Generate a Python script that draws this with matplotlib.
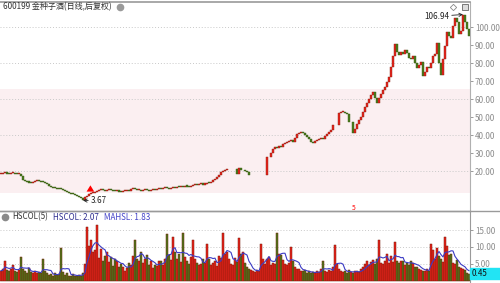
import matplotlib.pyplot as plt
import numpy as np
import pandas as pd

plt.rcParams['font.family'] = ['Noto Sans CJK SC', 'DejaVu Sans']

TITLE = '600199 金种子酒(日线,后复权)'

# daily close (after-adjusted), None = no visible candle
closes = [
    18.5, 18.8, 19.0, 18.6, 18.4, 18.7, 18.9, 18.5, 18.2, 18.4,
    17.2, 15.0, 14.2, 14.0, 13.6, 13.4, 13.8, 14.4, 14.6, 14.2,
    14.0, 13.8, 13.4, 12.6, 11.8, 11.2, 10.8, 10.5, 10.2, 10.0,
    9.8, 9.4, 8.8, 8.4, 7.8, 7.4, 7.0, 6.6, 6.0, 5.4,
    4.8, 3.67, 5.6, 6.4, 7.4, 7.8, 8.0, 8.4, 8.8, 9.2,
    9.6, 9.2, 9.0, 9.4, 9.6, 9.3, 9.0, 8.8, 9.0, 8.6,
    8.5, 8.8, 9.1, 9.4, 9.0, 9.8, 10.2, 9.8, 9.4, 9.6,
    9.0, 9.3, 9.6, 9.2, 8.9, 9.4, 9.7, 9.5, 9.9, 10.2,
    10.0, 10.4, 10.8, 10.4, 10.2, 10.6, 11.0, 10.8, 11.2, 11.0,
    11.3, 11.0, 11.6, 11.4, 11.2, 11.8, 12.0, 12.4, 12.2, 12.6,
    12.8, 12.5, 13.0, 13.6, 13.2, 14.0, 14.8, 15.6, 16.6, 18.0,
    19.2, 19.8, 20.4, 21.2, None, None, None, None, 18.6, 21.8,
    20.4, None, 20.2, 19.2, 18.0, None, None, None, None, None,
    None, None, None, 27.6, None, 30.2, 32.0, 33.2, 32.6, 34.0,
    33.4, 34.8, 35.6, 36.0, 36.8, 37.2, 36.2, 38.6, 40.4, 41.0,
    41.6, 41.2, 40.0, 39.0, 37.6, 36.4, 35.8, 36.6, 37.4, 38.0,
    38.6, 38.0, 39.2, 40.6, 41.6, 43.0, 45.6, None, None, 52.2,
    52.8, 53.0, 52.4, 51.6, 47.2, None, 41.2, 43.4, 46.0, 48.4,
    50.0, 52.6, 55.4, 57.8, 60.2, 62.0, 64.0, 60.4, 57.6, 60.6,
    63.0, 65.0, 66.8, 69.6, 72.4, 78.0, 84.0, 90.6, 86.0, 84.2,
    86.0, 84.8, 87.2, 85.6, 83.0, 82.4, 84.0, 80.2, 77.4, 79.0,
    80.4, 73.0, 75.0, 77.8, 77.0, 80.2, 84.0, 85.2, 91.0, 80.0,
    73.2, 82.0, 89.6, 97.0, 95.0, 94.0, 100.4, 105.2, 102.6, 96.4,
    98.0, 106.94, 103.0, 99.0, 95.0,
]

# turnover rate HSCOL (%)
hscol = [
    3.0, 3.4, 6.0, 3.2, 2.8, 3.6, 4.6, 3.0, 2.6, 3.2,
    7.0, 3.4, 2.8, 2.4, 3.8, 2.6, 2.4, 2.8, 2.2, 2.6,
    2.4, 6.6, 2.8, 2.2, 1.8, 2.0, 1.6, 2.2, 1.8, 2.0,
    9.6, 2.6, 1.8, 2.2, 1.6, 1.4, 2.0, 1.6, 1.4, 1.8,
    1.6, 2.4, 5.0, 16.0, 10.4, 12.0, 8.6, 9.0, 16.4, 6.8,
    9.4, 6.0, 7.4, 8.6, 5.6, 7.0, 4.4, 6.4, 6.0, 4.2,
    5.0, 4.0, 3.0, 3.8, 5.2, 4.6, 7.4, 12.0, 6.6, 6.0,
    8.6, 5.4, 6.6, 7.6, 4.8, 6.0, 3.8, 4.6, 4.4, 5.8,
    6.0, 4.8, 6.6, 13.8, 7.6, 6.2, 13.0, 8.4, 6.4, 8.0,
    5.6, 14.0, 7.0, 6.0, 5.0, 7.0, 12.0, 6.4, 5.2, 4.8,
    5.0, 6.4, 5.4, 11.0, 6.6, 4.8, 5.2, 6.0, 4.4, 7.4,
    6.8, 14.0, 8.0, 8.6, 6.4, 5.0, 4.6, 6.8, 5.6, 12.6,
    7.8, 8.4, 5.4, 4.0, 3.4, 3.2, 3.0, 2.6, 3.2, 2.8,
    11.0, 6.4, 5.0, 6.4, 7.2, 4.8, 5.4, 5.0, 14.0, 8.0,
    7.6, 6.2, 5.0, 4.6, 5.4, 10.0, 6.0, 4.0, 3.4, 3.6,
    3.0, 2.8, 3.2, 2.4, 2.8, 2.2, 2.6, 2.4, 3.0, 2.6,
    3.4, 6.0, 3.0, 2.6, 3.2, 2.8, 4.0, 10.6, 5.0, 3.6,
    3.0, 2.6, 2.8, 2.4, 3.2, 2.6, 2.4, 2.8, 3.0, 2.6,
    3.4, 4.0, 5.0, 6.0, 4.8, 5.6, 6.2, 5.0, 6.4, 12.0,
    5.4, 5.0, 6.0, 8.0, 5.4, 7.4, 5.6, 11.6, 6.0, 5.2,
    5.8, 6.0, 4.8, 5.4, 4.6, 6.0, 5.2, 4.2, 4.0, 3.6,
    3.2, 3.0, 2.8, 3.4, 3.0, 11.0, 9.0, 6.4, 9.6, 7.4,
    6.4, 5.6, 13.0, 10.2, 7.6, 8.0, 5.4, 5.0, 6.2, 4.0,
    3.8, 3.6, 3.2, 2.4, 2.07,
]

price_ticks = [20, 30, 40, 50, 60, 70, 80, 90, 100]
price_grid = [20, 40, 60, 80, 100]
vol_ticks = [5, 10, 15]
low_idx, low_val = 41, 3.67
high_idx, high_val = 231, 106.94

UP = '#e8231b'
DOWN = '#4a7d1c'
GRID = '#c9c9c9'
LABEL = '#8a8a8a'

n = len(closes)
x = np.arange(n)

fig = plt.figure(figsize=(5, 2.83), dpi=100)
fig.patch.set_facecolor('white')

W = 470 / 500
ax = fig.add_axes([0, 72 / 283, W, 209 / 283])
ax2 = fig.add_axes([0, 0, W, 72 / 283])

# ---- price panel ----
ax.set_xlim(-0.5, n - 0.5)
ax.set_ylim(-2.2, 113.9)
ax.axhspan(7.8, 65.6, color='#fbeff1', zorder=0, lw=0)
for g in price_grid:
    ax.axhline(g, color=GRID, lw=0.7, ls=(0, (1, 2)), zorder=1)

prev = None
up_flags = []
for i, c in enumerate(closes):
    if c is None:
        up_flags.append(True)
        continue
    o = prev if prev is not None else c
    up = c >= o
    up_flags.append(up)
    lo, hi = min(o, c), max(o, c)
    h = max(hi - lo, 0.6)
    ax.bar(i, h, bottom=lo, width=0.55, color=UP if up else DOWN,
           edgecolor='#8a2012' if up else '#3a5a14', linewidth=0.3, zorder=3)
    prev = c

ax.annotate(f'{low_val:.2f}', xy=(low_idx, low_val), xytext=(low_idx + 4, low_val - 0.3),
            fontsize=5.8, color='#222222', va='center', ha='left',
            arrowprops=dict(arrowstyle='->', color='#222222', lw=0.6, shrinkA=0, shrinkB=0))
ax.annotate(f'{high_val:.2f}', xy=(high_idx, high_val), xytext=(high_idx - 7, high_val - 1),
            fontsize=5.8, color='#222222', va='center', ha='right',
            arrowprops=dict(arrowstyle='->', color='#222222', lw=0.6, shrinkA=0, shrinkB=0))
ax.annotate('', xy=(44.7, 13.6), xytext=(44.7, 8.6),
            arrowprops=dict(arrowstyle='simple,head_width=0.55,head_length=0.45,tail_width=0.3',
                            color='red', lw=0))
ax.text(176.5, -0.8, '5', color='red', fontsize=4.8, ha='center', va='center')

ax.set_yticks(price_ticks)
ax.set_yticklabels([f'{t:.2f}' for t in price_ticks])
ax.yaxis.tick_right()
ax.tick_params(axis='y', colors=LABEL, labelsize=5.8, length=2, width=0.6, pad=1.5)
ax.set_xticks([])
for s in ['left', 'bottom']:
    ax.spines[s].set_visible(False)
ax.spines['right'].set_color('#b0b0b0')
ax.spines['top'].set_color('#9a9a9a')
ax.spines['top'].set_linewidth(1.2)

TY = 111.1
ax.text(1, TY, TITLE, fontsize=5.8, color='#333333', ha='left', va='center')
ax.plot([59.5], [TY], 'o', ms=4.5, color='#9a9a9a', mec='#9a9a9a')
ax.plot([226], [TY], 'D', ms=3.2, mfc='white', mec='#888888', mew=0.6)
ax.plot([232], [TY], 's', ms=4.2, mfc='#dddddd', mec='#666666', mew=0.6)

# ---- turnover panel ----
ax2.set_xlim(-0.5, n - 0.5)
ax2.set_ylim(-0.6, 20.6)
for g in vol_ticks:
    ax2.axhline(g, color=GRID, lw=0.7, ls=(0, (1, 2)), zorder=1)
colors = [UP if u else DOWN for u in up_flags]
ax2.bar(x, hscol, width=0.95, color=colors, edgecolor='#7a1a08', linewidth=0.35, zorder=2)
ma = pd.Series(hscol).rolling(5, min_periods=1).mean()
ax2.plot(x, ma, color='#3b3bc4', lw=0.8, zorder=3)

ax2.set_yticks(vol_ticks)
ax2.set_yticklabels([f'{t:.2f}' for t in vol_ticks])
ax2.yaxis.tick_right()
ax2.tick_params(axis='y', colors=LABEL, labelsize=5.8, length=2, width=0.6, pad=1.5)
ax2.set_xticks([])
for s in ['left', 'bottom']:
    ax2.spines[s].set_visible(False)
ax2.spines['right'].set_color('#9a9a9a')
ax2.spines['top'].set_color('#9a9a9a')
ax2.spines['top'].set_linewidth(1.0)

ax2.plot([2], [18.8], 'o', ms=4.5, color='#8a8a8a')
ax2.text(5.5, 18.8, 'HSCOL(5)', fontsize=5.8, color='#333333', va='center', ha='left')
ax2.text(26, 18.8, f'HSCOL: {hscol[-1]:.2f}', fontsize=5.8, color='#2e2e90', va='center', ha='left')
ax2.text(51.5, 18.8, 'MAHSL: 1.83', fontsize=5.8, color='#4242c8', va='center', ha='left')

# separator line and cyan value box
fig.add_artist(plt.Line2D([0, 1], [72 / 283, 72 / 283], color='#9a9a9a', lw=1.0))
fig.patches.append(plt.Rectangle((470 / 500, 4 / 283), 30 / 500, 11 / 283,
                                 transform=fig.transFigure, color='#22e4f4', zorder=5))
fig.text(472 / 500, 9.5 / 283, '0.45', fontsize=5.8, color='#111111', va='center', ha='left', zorder=6)

fig.savefig('out.png', dpi=100)
